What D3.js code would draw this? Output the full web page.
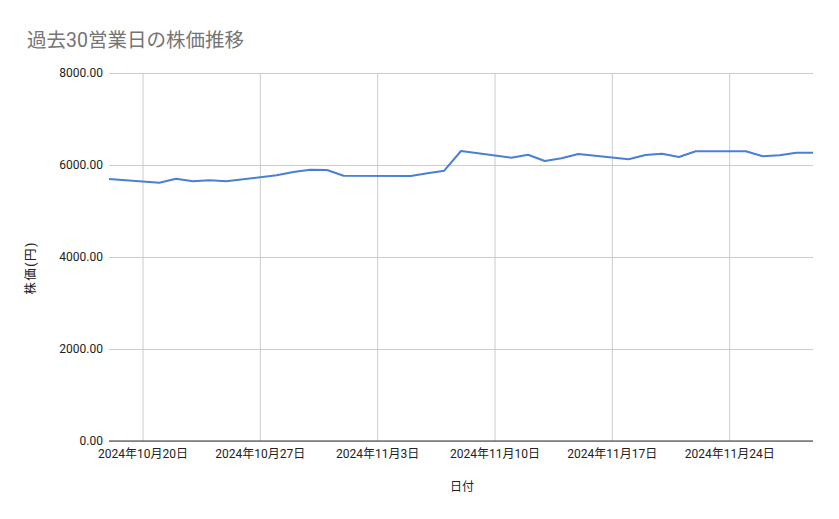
<!DOCTYPE html>
<html><head><meta charset="utf-8">
<script src="https://cdn.jsdelivr.net/npm/d3@7"></script>
<style>body{margin:0;background:#fff}svg{display:block;font-family:Roboto,"Noto Sans CJK JP",sans-serif}</style>
</head><body><svg id="c" width="839" height="519"></svg>
<script>
const dates = ["2024-10-18","2024-10-21","2024-10-22","2024-10-23","2024-10-24","2024-10-25",
"2024-10-28","2024-10-29","2024-10-30","2024-10-31","2024-11-01",
"2024-11-05","2024-11-06","2024-11-07","2024-11-08",
"2024-11-11","2024-11-12","2024-11-13","2024-11-14","2024-11-15",
"2024-11-18","2024-11-19","2024-11-20","2024-11-21","2024-11-22",
"2024-11-25","2024-11-26","2024-11-27","2024-11-28","2024-11-29"];
const prices = [5696,5615,5702,5646,5667,5646,
5776,5848,5898,5891,5767,
5761,5820,5876,6304,
6159,6224,6087,6146,6239,
6124,6217,6246,6174,6298,
6298,6189,6211,6267,6267];
const xTicks = ["2024-10-20","2024-10-27","2024-11-03","2024-11-10","2024-11-17","2024-11-24"];
const yTicks = [0,2000,4000,6000,8000];
const xDomain = ["2024-10-18","2024-11-29"];

const parse = d3.timeParse("%Y-%m-%d");
const svg = d3.select("#c");
const L=109,R=813,T=73,B=441;
const x = d3.scaleTime().domain(xDomain.map(parse)).range([L,R]);
const y = d3.scaleLinear().domain([0,8000]).range([B,T]);

svg.append("text").attr("x",27).attr("y",47).attr("font-size",19.5).attr("fill","#757575").text("過去30営業日の株価推移");

// horizontal grid
const yg = svg.append("g").attr("transform",`translate(${L},0)`)
  .call(d3.axisLeft(y).tickValues(yTicks).tickSize(-(R-L)).tickFormat(d3.format(".2f")).tickPadding(6));
yg.select(".domain").remove();
yg.selectAll(".tick line").attr("stroke","#cccccc");
yg.selectAll(".tick text").attr("font-size",12).attr("fill","#222").attr("font-family",'Roboto,"Noto Sans CJK JP",sans-serif');

// vertical grid + labels
const fmt = d => `${d.getFullYear()}年${d.getMonth()+1}月${d.getDate()}日`;
const xg = svg.append("g").attr("transform",`translate(0,${B})`)
  .call(d3.axisBottom(x).tickValues(xTicks.map(parse)).tickSize(-(B-T)).tickFormat(fmt).tickPadding(6));
xg.select(".domain").remove();
xg.selectAll(".tick line").attr("stroke","#cccccc");
xg.selectAll(".tick text").attr("font-size",12).attr("fill","#222").attr("dy","0.95em").attr("font-family",'Roboto,"Noto Sans CJK JP",sans-serif');

svg.append("line").attr("x1",L).attr("x2",R).attr("y1",B).attr("y2",B).attr("stroke","#333").attr("stroke-width",1);

const line = d3.line().x((d,i)=>x(parse(dates[i]))).y(d=>y(d));
svg.append("path").datum(prices).attr("d",line).attr("fill","none").attr("stroke","#4a7fd6").attr("stroke-width",2).attr("stroke-linejoin","round");

svg.append("text").attr("x",462).attr("y",491).attr("text-anchor","middle").attr("font-size",12).attr("fill","#222").text("日付");
svg.append("text").attr("transform","translate(35,268) rotate(-90)").attr("text-anchor","middle").attr("font-size",12.5).attr("letter-spacing",1.5).attr("fill","#222").text("株価(円)");
</script></body></html>
